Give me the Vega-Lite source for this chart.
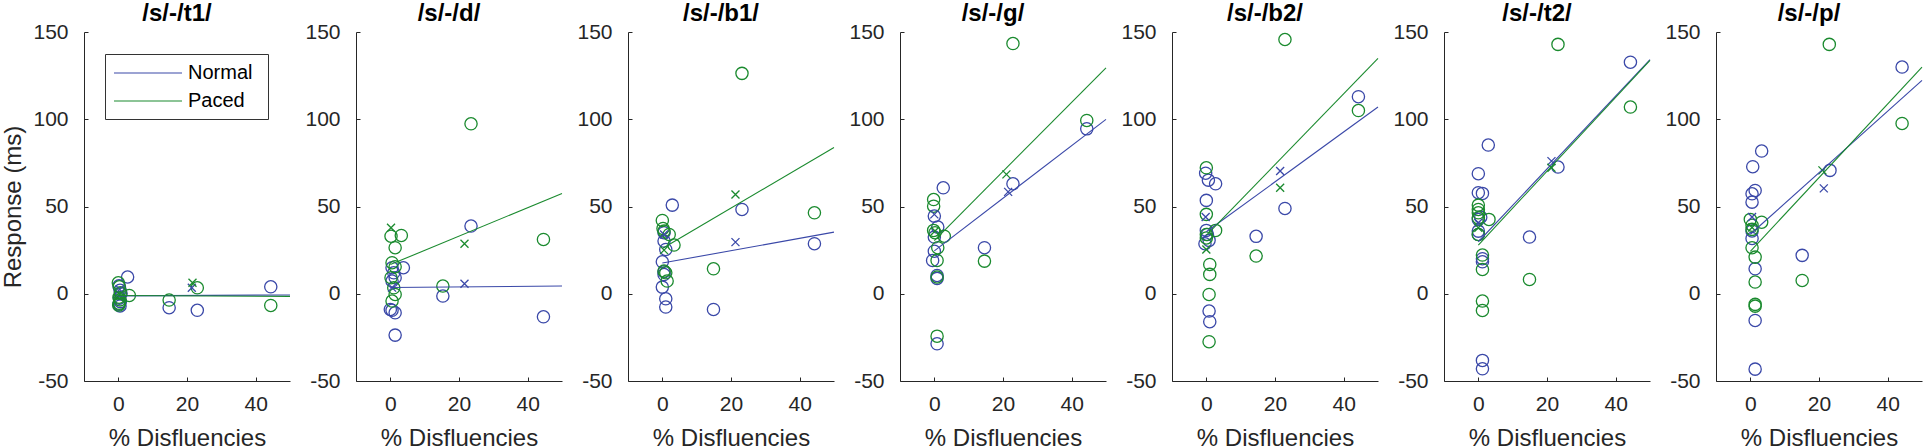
{
  "$schema": "https://vega.github.io/schema/vega-lite/v6.json",
  "padding": {"left": 1, "top": 1, "right": 0, "bottom": 0},
  "spacing": 66,
  "bounds": "flush",
  "resolve": {"legend": {"color": "independent"}},
  "datasets": {
    "lines": [
      {"panel": "/s/-/t1/", "group": "Normal", "x": 0, "y": -1.2}, {"panel": "/s/-/t1/", "group": "Normal", "x": 50, "y": -0.7},
      {"panel": "/s/-/t1/", "group": "Paced", "x": 0, "y": -1.0}, {"panel": "/s/-/t1/", "group": "Paced", "x": 50, "y": -1.5},
      {"panel": "/s/-/d/", "group": "Normal", "x": 0, "y": 3.6}, {"panel": "/s/-/d/", "group": "Normal", "x": 50, "y": 4.4},
      {"panel": "/s/-/d/", "group": "Paced", "x": 0, "y": 16.7}, {"panel": "/s/-/d/", "group": "Paced", "x": 50, "y": 57.5},
      {"panel": "/s/-/b1/", "group": "Normal", "x": 0, "y": 17.6}, {"panel": "/s/-/b1/", "group": "Normal", "x": 50, "y": 35.3},
      {"panel": "/s/-/b1/", "group": "Paced", "x": 0, "y": 25.9}, {"panel": "/s/-/b1/", "group": "Paced", "x": 50, "y": 83.8},
      {"panel": "/s/-/g/", "group": "Normal", "x": 0, "y": 24.6}, {"panel": "/s/-/g/", "group": "Normal", "x": 50, "y": 99.9},
      {"panel": "/s/-/g/", "group": "Paced", "x": 0, "y": 30.5}, {"panel": "/s/-/g/", "group": "Paced", "x": 50, "y": 129.5},
      {"panel": "/s/-/b2/", "group": "Normal", "x": 0, "y": 35.5}, {"panel": "/s/-/b2/", "group": "Normal", "x": 50, "y": 107},
      {"panel": "/s/-/b2/", "group": "Paced", "x": 0, "y": 33.4}, {"panel": "/s/-/b2/", "group": "Paced", "x": 50, "y": 134.9},
      {"panel": "/s/-/t2/", "group": "Normal", "x": 0, "y": 29.8}, {"panel": "/s/-/t2/", "group": "Normal", "x": 50, "y": 134.1},
      {"panel": "/s/-/t2/", "group": "Paced", "x": 0, "y": 27.9}, {"panel": "/s/-/t2/", "group": "Paced", "x": 50, "y": 133.7},
      {"panel": "/s/-/p/", "group": "Normal", "x": 0, "y": 34.1}, {"panel": "/s/-/p/", "group": "Normal", "x": 50, "y": 122.3},
      {"panel": "/s/-/p/", "group": "Paced", "x": 0, "y": 24.3}, {"panel": "/s/-/p/", "group": "Paced", "x": 50, "y": 129.9}
    ],
    "points": [
      {"panel": "/s/-/t1/", "group": "Normal", "kind": "obs", "x": 2.7, "y": 9.6},
      {"panel": "/s/-/t1/", "group": "Normal", "kind": "obs", "x": 14.8, "y": -8},
      {"panel": "/s/-/t1/", "group": "Normal", "kind": "obs", "x": 23, "y": -9.5},
      {"panel": "/s/-/t1/", "group": "Normal", "kind": "obs", "x": 44.4, "y": 4},
      {"panel": "/s/-/t1/", "group": "Normal", "kind": "obs", "x": 0.2, "y": 4.5},
      {"panel": "/s/-/t1/", "group": "Normal", "kind": "obs", "x": 0.5, "y": 2},
      {"panel": "/s/-/t1/", "group": "Normal", "kind": "obs", "x": 0.8, "y": 0},
      {"panel": "/s/-/t1/", "group": "Normal", "kind": "obs", "x": 0.3, "y": -2.5},
      {"panel": "/s/-/t1/", "group": "Normal", "kind": "obs", "x": 0.6, "y": -4.5},
      {"panel": "/s/-/t1/", "group": "Normal", "kind": "obs", "x": 0.2, "y": -6},
      {"panel": "/s/-/t1/", "group": "Normal", "kind": "obs", "x": 0.5, "y": -7},
      {"panel": "/s/-/t1/", "group": "Paced", "kind": "obs", "x": 3.2, "y": -1},
      {"panel": "/s/-/t1/", "group": "Paced", "kind": "obs", "x": 14.8, "y": -3.6},
      {"panel": "/s/-/t1/", "group": "Paced", "kind": "obs", "x": 23, "y": 3.4},
      {"panel": "/s/-/t1/", "group": "Paced", "kind": "obs", "x": 44.4, "y": -6.7},
      {"panel": "/s/-/t1/", "group": "Paced", "kind": "obs", "x": 0, "y": 6.3},
      {"panel": "/s/-/t1/", "group": "Paced", "kind": "obs", "x": 0.3, "y": 4},
      {"panel": "/s/-/t1/", "group": "Paced", "kind": "obs", "x": 0.6, "y": 0.5},
      {"panel": "/s/-/t1/", "group": "Paced", "kind": "obs", "x": 0.2, "y": -2},
      {"panel": "/s/-/t1/", "group": "Paced", "kind": "obs", "x": 0.5, "y": -3.5},
      {"panel": "/s/-/t1/", "group": "Paced", "kind": "obs", "x": 0.3, "y": -5.5},
      {"panel": "/s/-/t1/", "group": "Paced", "kind": "obs", "x": 0.1, "y": -6.5},
      {"panel": "/s/-/t1/", "group": "Normal", "kind": "mean", "x": 21.4, "y": 3.4},
      {"panel": "/s/-/t1/", "group": "Normal", "kind": "mean", "x": 0.4, "y": 2.5},
      {"panel": "/s/-/t1/", "group": "Paced", "kind": "mean", "x": 21.6, "y": 6.3},
      {"panel": "/s/-/t1/", "group": "Paced", "kind": "mean", "x": 0.4, "y": -0.5},

      {"panel": "/s/-/d/", "group": "Normal", "kind": "obs", "x": 23.5, "y": 38.8},
      {"panel": "/s/-/d/", "group": "Normal", "kind": "obs", "x": 44.6, "y": -13.2},
      {"panel": "/s/-/d/", "group": "Normal", "kind": "obs", "x": 15.3, "y": -1.3},
      {"panel": "/s/-/d/", "group": "Normal", "kind": "obs", "x": 3.8, "y": 14.9},
      {"panel": "/s/-/d/", "group": "Normal", "kind": "obs", "x": 0.5, "y": 14.9},
      {"panel": "/s/-/d/", "group": "Normal", "kind": "obs", "x": 1, "y": 12},
      {"panel": "/s/-/d/", "group": "Normal", "kind": "obs", "x": 1.4, "y": 9.2},
      {"panel": "/s/-/d/", "group": "Normal", "kind": "obs", "x": 0.5, "y": 7.3},
      {"panel": "/s/-/d/", "group": "Normal", "kind": "obs", "x": 0, "y": -9},
      {"panel": "/s/-/d/", "group": "Normal", "kind": "obs", "x": 0.5, "y": -9.5},
      {"panel": "/s/-/d/", "group": "Normal", "kind": "obs", "x": 1.4, "y": -10.9},
      {"panel": "/s/-/d/", "group": "Normal", "kind": "obs", "x": 1.4, "y": -23.7},
      {"panel": "/s/-/d/", "group": "Paced", "kind": "obs", "x": 23.5, "y": 97.4},
      {"panel": "/s/-/d/", "group": "Paced", "kind": "obs", "x": 44.6, "y": 31.1},
      {"panel": "/s/-/d/", "group": "Paced", "kind": "obs", "x": 15.3, "y": 4.4},
      {"panel": "/s/-/d/", "group": "Paced", "kind": "obs", "x": 3.2, "y": 33.4},
      {"panel": "/s/-/d/", "group": "Paced", "kind": "obs", "x": 0.2, "y": 33},
      {"panel": "/s/-/d/", "group": "Paced", "kind": "obs", "x": 1.4, "y": 26.4},
      {"panel": "/s/-/d/", "group": "Paced", "kind": "obs", "x": 0.5, "y": 17.8},
      {"panel": "/s/-/d/", "group": "Paced", "kind": "obs", "x": 1.4, "y": 15.5},
      {"panel": "/s/-/d/", "group": "Paced", "kind": "obs", "x": 0.2, "y": 9.2},
      {"panel": "/s/-/d/", "group": "Paced", "kind": "obs", "x": 1, "y": 3.4},
      {"panel": "/s/-/d/", "group": "Paced", "kind": "obs", "x": 1.4, "y": -0.4},
      {"panel": "/s/-/d/", "group": "Paced", "kind": "obs", "x": 0.5, "y": -4.2},
      {"panel": "/s/-/d/", "group": "Normal", "kind": "mean", "x": 21.6, "y": 5.7},
      {"panel": "/s/-/d/", "group": "Normal", "kind": "mean", "x": 0.5, "y": 3.5},
      {"panel": "/s/-/d/", "group": "Paced", "kind": "mean", "x": 21.6, "y": 28.7},
      {"panel": "/s/-/d/", "group": "Paced", "kind": "mean", "x": 0.2, "y": 37.8},

      {"panel": "/s/-/b1/", "group": "Normal", "kind": "obs", "x": 2.9, "y": 50.8},
      {"panel": "/s/-/b1/", "group": "Normal", "kind": "obs", "x": 23.2, "y": 48.3},
      {"panel": "/s/-/b1/", "group": "Normal", "kind": "obs", "x": 44.3, "y": 28.7},
      {"panel": "/s/-/b1/", "group": "Normal", "kind": "obs", "x": 14.9, "y": -9},
      {"panel": "/s/-/b1/", "group": "Normal", "kind": "obs", "x": 0.5, "y": 35},
      {"panel": "/s/-/b1/", "group": "Normal", "kind": "obs", "x": 0.5, "y": 30.2},
      {"panel": "/s/-/b1/", "group": "Normal", "kind": "obs", "x": 1, "y": 25.4},
      {"panel": "/s/-/b1/", "group": "Normal", "kind": "obs", "x": 0, "y": 18.3},
      {"panel": "/s/-/b1/", "group": "Normal", "kind": "obs", "x": 0.5, "y": 12.6},
      {"panel": "/s/-/b1/", "group": "Normal", "kind": "obs", "x": 0.5, "y": 11},
      {"panel": "/s/-/b1/", "group": "Normal", "kind": "obs", "x": 0, "y": 3.8},
      {"panel": "/s/-/b1/", "group": "Normal", "kind": "obs", "x": 1, "y": -2.9},
      {"panel": "/s/-/b1/", "group": "Normal", "kind": "obs", "x": 1, "y": -7.6},
      {"panel": "/s/-/b1/", "group": "Paced", "kind": "obs", "x": 23.2, "y": 126.3},
      {"panel": "/s/-/b1/", "group": "Paced", "kind": "obs", "x": 44.3, "y": 46.4},
      {"panel": "/s/-/b1/", "group": "Paced", "kind": "obs", "x": 14.9, "y": 14.3},
      {"panel": "/s/-/b1/", "group": "Paced", "kind": "obs", "x": 3.4, "y": 27.9},
      {"panel": "/s/-/b1/", "group": "Paced", "kind": "obs", "x": 0, "y": 42},
      {"panel": "/s/-/b1/", "group": "Paced", "kind": "obs", "x": 0.2, "y": 37.4},
      {"panel": "/s/-/b1/", "group": "Paced", "kind": "obs", "x": 0.5, "y": 35.9},
      {"panel": "/s/-/b1/", "group": "Paced", "kind": "obs", "x": 2, "y": 34},
      {"panel": "/s/-/b1/", "group": "Paced", "kind": "obs", "x": 0.5, "y": 13},
      {"panel": "/s/-/b1/", "group": "Paced", "kind": "obs", "x": 1, "y": 12},
      {"panel": "/s/-/b1/", "group": "Paced", "kind": "obs", "x": 1.4, "y": 7.3},
      {"panel": "/s/-/b1/", "group": "Normal", "kind": "mean", "x": 21.3, "y": 29.6},
      {"panel": "/s/-/b1/", "group": "Normal", "kind": "mean", "x": 0.5, "y": 34},
      {"panel": "/s/-/b1/", "group": "Paced", "kind": "mean", "x": 21.3, "y": 56.9},
      {"panel": "/s/-/b1/", "group": "Paced", "kind": "mean", "x": 0.5, "y": 25},

      {"panel": "/s/-/g/", "group": "Normal", "kind": "obs", "x": 2.6, "y": 60.7},
      {"panel": "/s/-/g/", "group": "Normal", "kind": "obs", "x": 22.9, "y": 63},
      {"panel": "/s/-/g/", "group": "Normal", "kind": "obs", "x": 44.4, "y": 94.5},
      {"panel": "/s/-/g/", "group": "Normal", "kind": "obs", "x": 14.6, "y": 26.4},
      {"panel": "/s/-/g/", "group": "Normal", "kind": "obs", "x": 0, "y": 44.5},
      {"panel": "/s/-/g/", "group": "Normal", "kind": "obs", "x": 1, "y": 38.2},
      {"panel": "/s/-/g/", "group": "Normal", "kind": "obs", "x": 0, "y": 32.5},
      {"panel": "/s/-/g/", "group": "Normal", "kind": "obs", "x": 0, "y": 24.4},
      {"panel": "/s/-/g/", "group": "Normal", "kind": "obs", "x": -0.5, "y": 19.1},
      {"panel": "/s/-/g/", "group": "Normal", "kind": "obs", "x": 0.8, "y": 10.5},
      {"panel": "/s/-/g/", "group": "Normal", "kind": "obs", "x": 0.8, "y": 8.8},
      {"panel": "/s/-/g/", "group": "Normal", "kind": "obs", "x": 0.8, "y": -28.7},
      {"panel": "/s/-/g/", "group": "Paced", "kind": "obs", "x": 22.9, "y": 143.4},
      {"panel": "/s/-/g/", "group": "Paced", "kind": "obs", "x": 44.4, "y": 99.3},
      {"panel": "/s/-/g/", "group": "Paced", "kind": "obs", "x": 14.6, "y": 18.7},
      {"panel": "/s/-/g/", "group": "Paced", "kind": "obs", "x": 2.9, "y": 33},
      {"panel": "/s/-/g/", "group": "Paced", "kind": "obs", "x": -0.2, "y": 54},
      {"panel": "/s/-/g/", "group": "Paced", "kind": "obs", "x": -0.2, "y": 50.2},
      {"panel": "/s/-/g/", "group": "Paced", "kind": "obs", "x": -0.2, "y": 36.3},
      {"panel": "/s/-/g/", "group": "Paced", "kind": "obs", "x": 0.2, "y": 35},
      {"panel": "/s/-/g/", "group": "Paced", "kind": "obs", "x": 1, "y": 26.4},
      {"panel": "/s/-/g/", "group": "Paced", "kind": "obs", "x": 0.8, "y": 19.1},
      {"panel": "/s/-/g/", "group": "Paced", "kind": "obs", "x": 0.8, "y": 9.6},
      {"panel": "/s/-/g/", "group": "Paced", "kind": "obs", "x": 0.8, "y": -24.3},
      {"panel": "/s/-/g/", "group": "Normal", "kind": "mean", "x": 21.5, "y": 58.4},
      {"panel": "/s/-/g/", "group": "Normal", "kind": "mean", "x": 0, "y": 45.5},
      {"panel": "/s/-/g/", "group": "Paced", "kind": "mean", "x": 21, "y": 68.4},
      {"panel": "/s/-/g/", "group": "Paced", "kind": "mean", "x": 0.2, "y": 36},

      {"panel": "/s/-/b2/", "group": "Normal", "kind": "obs", "x": 2.7, "y": 63},
      {"panel": "/s/-/b2/", "group": "Normal", "kind": "obs", "x": 22.9, "y": 48.9},
      {"panel": "/s/-/b2/", "group": "Normal", "kind": "obs", "x": 44.3, "y": 112.9},
      {"panel": "/s/-/b2/", "group": "Normal", "kind": "obs", "x": 14.5, "y": 32.9},
      {"panel": "/s/-/b2/", "group": "Normal", "kind": "obs", "x": -0.2, "y": 69.1},
      {"panel": "/s/-/b2/", "group": "Normal", "kind": "obs", "x": 0.6, "y": 65.1},
      {"panel": "/s/-/b2/", "group": "Normal", "kind": "obs", "x": 0, "y": 53.5},
      {"panel": "/s/-/b2/", "group": "Normal", "kind": "obs", "x": 0, "y": 36.3},
      {"panel": "/s/-/b2/", "group": "Normal", "kind": "obs", "x": 0.3, "y": 34},
      {"panel": "/s/-/b2/", "group": "Normal", "kind": "obs", "x": 0.8, "y": 30.6},
      {"panel": "/s/-/b2/", "group": "Normal", "kind": "obs", "x": -0.4, "y": 28.7},
      {"panel": "/s/-/b2/", "group": "Normal", "kind": "obs", "x": 0.8, "y": -9.9},
      {"panel": "/s/-/b2/", "group": "Normal", "kind": "obs", "x": 1, "y": -16},
      {"panel": "/s/-/b2/", "group": "Paced", "kind": "obs", "x": 22.9, "y": 145.7},
      {"panel": "/s/-/b2/", "group": "Paced", "kind": "obs", "x": 44.3, "y": 105},
      {"panel": "/s/-/b2/", "group": "Paced", "kind": "obs", "x": 14.5, "y": 21.6},
      {"panel": "/s/-/b2/", "group": "Paced", "kind": "obs", "x": 2.7, "y": 36.3},
      {"panel": "/s/-/b2/", "group": "Paced", "kind": "obs", "x": 0, "y": 72.2},
      {"panel": "/s/-/b2/", "group": "Paced", "kind": "obs", "x": 0, "y": 45.5},
      {"panel": "/s/-/b2/", "group": "Paced", "kind": "obs", "x": 0, "y": 34},
      {"panel": "/s/-/b2/", "group": "Paced", "kind": "obs", "x": 0, "y": 32},
      {"panel": "/s/-/b2/", "group": "Paced", "kind": "obs", "x": 1, "y": 16.8},
      {"panel": "/s/-/b2/", "group": "Paced", "kind": "obs", "x": 1, "y": 11.1},
      {"panel": "/s/-/b2/", "group": "Paced", "kind": "obs", "x": 0.8, "y": -0.4},
      {"panel": "/s/-/b2/", "group": "Paced", "kind": "obs", "x": 0.8, "y": -27.5},
      {"panel": "/s/-/b2/", "group": "Normal", "kind": "mean", "x": 21.5, "y": 70.3},
      {"panel": "/s/-/b2/", "group": "Normal", "kind": "mean", "x": -0.2, "y": 44},
      {"panel": "/s/-/b2/", "group": "Paced", "kind": "mean", "x": 21.5, "y": 60.7},
      {"panel": "/s/-/b2/", "group": "Paced", "kind": "mean", "x": 0, "y": 25.4},

      {"panel": "/s/-/t2/", "group": "Normal", "kind": "obs", "x": 2.9, "y": 85.2},
      {"panel": "/s/-/t2/", "group": "Normal", "kind": "obs", "x": 23.2, "y": 72.6},
      {"panel": "/s/-/t2/", "group": "Normal", "kind": "obs", "x": 44.3, "y": 132.7},
      {"panel": "/s/-/t2/", "group": "Normal", "kind": "obs", "x": 14.9, "y": 32.5},
      {"panel": "/s/-/t2/", "group": "Normal", "kind": "obs", "x": 0, "y": 68.8},
      {"panel": "/s/-/t2/", "group": "Normal", "kind": "obs", "x": 0, "y": 57.9},
      {"panel": "/s/-/t2/", "group": "Normal", "kind": "obs", "x": 1.2, "y": 57.5},
      {"panel": "/s/-/t2/", "group": "Normal", "kind": "obs", "x": 0.7, "y": 43.9},
      {"panel": "/s/-/t2/", "group": "Normal", "kind": "obs", "x": 0, "y": 42.6},
      {"panel": "/s/-/t2/", "group": "Normal", "kind": "obs", "x": 0, "y": 35.9},
      {"panel": "/s/-/t2/", "group": "Normal", "kind": "obs", "x": 0, "y": 34},
      {"panel": "/s/-/t2/", "group": "Normal", "kind": "obs", "x": 1.2, "y": 20.1},
      {"panel": "/s/-/t2/", "group": "Normal", "kind": "obs", "x": 1.2, "y": 18.3},
      {"panel": "/s/-/t2/", "group": "Normal", "kind": "obs", "x": 1.2, "y": -38.2},
      {"panel": "/s/-/t2/", "group": "Normal", "kind": "obs", "x": 1.2, "y": -43},
      {"panel": "/s/-/t2/", "group": "Paced", "kind": "obs", "x": 23.2, "y": 142.9},
      {"panel": "/s/-/t2/", "group": "Paced", "kind": "obs", "x": 44.3, "y": 107},
      {"panel": "/s/-/t2/", "group": "Paced", "kind": "obs", "x": 14.9, "y": 8.2},
      {"panel": "/s/-/t2/", "group": "Paced", "kind": "obs", "x": 3.1, "y": 42.6},
      {"panel": "/s/-/t2/", "group": "Paced", "kind": "obs", "x": 0, "y": 50.8},
      {"panel": "/s/-/t2/", "group": "Paced", "kind": "obs", "x": 0, "y": 48.3},
      {"panel": "/s/-/t2/", "group": "Paced", "kind": "obs", "x": 0, "y": 46.4},
      {"panel": "/s/-/t2/", "group": "Paced", "kind": "obs", "x": 0, "y": 43.5},
      {"panel": "/s/-/t2/", "group": "Paced", "kind": "obs", "x": 0, "y": 34},
      {"panel": "/s/-/t2/", "group": "Paced", "kind": "obs", "x": 1.2, "y": 22.2},
      {"panel": "/s/-/t2/", "group": "Paced", "kind": "obs", "x": 1.2, "y": 13.9},
      {"panel": "/s/-/t2/", "group": "Paced", "kind": "obs", "x": 1.2, "y": -4.2},
      {"panel": "/s/-/t2/", "group": "Paced", "kind": "obs", "x": 1.2, "y": -9.6},
      {"panel": "/s/-/t2/", "group": "Normal", "kind": "mean", "x": 21.3, "y": 76},
      {"panel": "/s/-/t2/", "group": "Normal", "kind": "mean", "x": 0, "y": 40.7},
      {"panel": "/s/-/t2/", "group": "Paced", "kind": "mean", "x": 21.3, "y": 72.2},
      {"panel": "/s/-/t2/", "group": "Paced", "kind": "mean", "x": 0, "y": 37.8},

      {"panel": "/s/-/p/", "group": "Normal", "kind": "obs", "x": 3.3, "y": 81.8},
      {"panel": "/s/-/p/", "group": "Normal", "kind": "obs", "x": 23.2, "y": 70.7},
      {"panel": "/s/-/p/", "group": "Normal", "kind": "obs", "x": 44.2, "y": 129.9},
      {"panel": "/s/-/p/", "group": "Normal", "kind": "obs", "x": 15.1, "y": 22},
      {"panel": "/s/-/p/", "group": "Normal", "kind": "obs", "x": 0.7, "y": 72.8},
      {"panel": "/s/-/p/", "group": "Normal", "kind": "obs", "x": 1.4, "y": 59.2},
      {"panel": "/s/-/p/", "group": "Normal", "kind": "obs", "x": 0.5, "y": 57.3},
      {"panel": "/s/-/p/", "group": "Normal", "kind": "obs", "x": 0.5, "y": 52.5},
      {"panel": "/s/-/p/", "group": "Normal", "kind": "obs", "x": 0.5, "y": 36},
      {"panel": "/s/-/p/", "group": "Normal", "kind": "obs", "x": 0.5, "y": 31.7},
      {"panel": "/s/-/p/", "group": "Normal", "kind": "obs", "x": 1.4, "y": 14.3},
      {"panel": "/s/-/p/", "group": "Normal", "kind": "obs", "x": 1.4, "y": -15.3},
      {"panel": "/s/-/p/", "group": "Normal", "kind": "obs", "x": 1.4, "y": -43.2},
      {"panel": "/s/-/p/", "group": "Paced", "kind": "obs", "x": 23, "y": 142.9},
      {"panel": "/s/-/p/", "group": "Paced", "kind": "obs", "x": 44.2, "y": 97.6},
      {"panel": "/s/-/p/", "group": "Paced", "kind": "obs", "x": 15.1, "y": 7.6},
      {"panel": "/s/-/p/", "group": "Paced", "kind": "obs", "x": 3.3, "y": 41},
      {"panel": "/s/-/p/", "group": "Paced", "kind": "obs", "x": 0, "y": 42.6},
      {"panel": "/s/-/p/", "group": "Paced", "kind": "obs", "x": 0.5, "y": 39.3},
      {"panel": "/s/-/p/", "group": "Paced", "kind": "obs", "x": 0.5, "y": 36.9},
      {"panel": "/s/-/p/", "group": "Paced", "kind": "obs", "x": 0.5, "y": 26.4},
      {"panel": "/s/-/p/", "group": "Paced", "kind": "obs", "x": 1.4, "y": 21},
      {"panel": "/s/-/p/", "group": "Paced", "kind": "obs", "x": 1.4, "y": 6.7},
      {"panel": "/s/-/p/", "group": "Paced", "kind": "obs", "x": 1.4, "y": -6.1},
      {"panel": "/s/-/p/", "group": "Paced", "kind": "obs", "x": 1.4, "y": -7.1},
      {"panel": "/s/-/p/", "group": "Normal", "kind": "mean", "x": 21.4, "y": 60.4},
      {"panel": "/s/-/p/", "group": "Normal", "kind": "mean", "x": 0.5, "y": 44},
      {"panel": "/s/-/p/", "group": "Paced", "kind": "mean", "x": 21, "y": 70.7},
      {"panel": "/s/-/p/", "group": "Paced", "kind": "mean", "x": 0.5, "y": 38}
    ]
  },
  "hconcat": [
    {
      "title": "/s/-/t1/", "width": 206, "height": 349,
      "encoding": {
        "x": {"field": "x", "type": "quantitative", "scale": {"domain": [-10, 50], "nice": false, "zero": false}, "axis": {"values": [0, 20, 40], "title": "% Disfluencies"}},
        "y": {"field": "y", "type": "quantitative", "scale": {"domain": [-50, 150], "nice": false, "zero": false}, "axis": {"values": [-50, 0, 50, 100, 150], "title": "Response (ms)"}},
        "color": {"field": "group", "type": "nominal", "scale": {"domain": ["Normal", "Paced"], "range": ["#3a48a8", "#1a8a2e"]},
          "legend": {"orient": "none", "legendX": 21, "legendY": 22, "title": null, "symbolType": "M-1,0H5.8", "symbolSize": 400, "symbolStrokeWidth": 1.2, "labelFontSize": 20, "labelColor": "#000", "strokeColor": "#333", "fillColor": "#fff", "padding": 8, "rowPadding": 7, "labelOffset": 53,
            "encode": {"entries": {"update": {"width": {"value": 147}, "noBound": {"value": false}}}}}}
      },
      "layer": [
        {"data": {"name": "points"}, "transform": [{"filter": "datum.panel === '/s/-/t1/' && datum.kind === 'obs'"}], "mark": {"type": "point", "shape": "circle", "filled": false, "size": 150, "strokeWidth": 1.3, "opacity": 1}},
        {"data": {"name": "points"}, "transform": [{"filter": "datum.panel === '/s/-/t1/' && datum.kind === 'mean'"}], "mark": {"type": "point", "shape": "M-1,-1L1,1M1,-1L-1,1", "filled": false, "size": 64, "strokeWidth": 1.3, "opacity": 1}},
        {"data": {"name": "lines"}, "transform": [{"filter": "datum.panel === '/s/-/t1/'"}], "mark": {"type": "line", "strokeWidth": 1.1}}
      ]
    },
    {
      "title": "/s/-/d/", "width": 206, "height": 349,
      "encoding": {
        "x": {"field": "x", "type": "quantitative", "scale": {"domain": [-10, 50], "nice": false, "zero": false}, "axis": {"values": [0, 20, 40], "title": "% Disfluencies"}},
        "y": {"field": "y", "type": "quantitative", "scale": {"domain": [-50, 150], "nice": false, "zero": false}, "axis": {"values": [-50, 0, 50, 100, 150], "title": null}},
        "color": {"field": "group", "type": "nominal", "scale": {"domain": ["Normal", "Paced"], "range": ["#3a48a8", "#1a8a2e"]}, "legend": null}
      },
      "layer": [
        {"data": {"name": "points"}, "transform": [{"filter": "datum.panel === '/s/-/d/' && datum.kind === 'obs'"}], "mark": {"type": "point", "shape": "circle", "filled": false, "size": 150, "strokeWidth": 1.3, "opacity": 1}},
        {"data": {"name": "points"}, "transform": [{"filter": "datum.panel === '/s/-/d/' && datum.kind === 'mean'"}], "mark": {"type": "point", "shape": "M-1,-1L1,1M1,-1L-1,1", "filled": false, "size": 64, "strokeWidth": 1.3, "opacity": 1}},
        {"data": {"name": "lines"}, "transform": [{"filter": "datum.panel === '/s/-/d/'"}], "mark": {"type": "line", "strokeWidth": 1.1}}
      ]
    },
    {
      "title": "/s/-/b1/", "width": 206, "height": 349,
      "encoding": {
        "x": {"field": "x", "type": "quantitative", "scale": {"domain": [-10, 50], "nice": false, "zero": false}, "axis": {"values": [0, 20, 40], "title": "% Disfluencies"}},
        "y": {"field": "y", "type": "quantitative", "scale": {"domain": [-50, 150], "nice": false, "zero": false}, "axis": {"values": [-50, 0, 50, 100, 150], "title": null}},
        "color": {"field": "group", "type": "nominal", "scale": {"domain": ["Normal", "Paced"], "range": ["#3a48a8", "#1a8a2e"]}, "legend": null}
      },
      "layer": [
        {"data": {"name": "points"}, "transform": [{"filter": "datum.panel === '/s/-/b1/' && datum.kind === 'obs'"}], "mark": {"type": "point", "shape": "circle", "filled": false, "size": 150, "strokeWidth": 1.3, "opacity": 1}},
        {"data": {"name": "points"}, "transform": [{"filter": "datum.panel === '/s/-/b1/' && datum.kind === 'mean'"}], "mark": {"type": "point", "shape": "M-1,-1L1,1M1,-1L-1,1", "filled": false, "size": 64, "strokeWidth": 1.3, "opacity": 1}},
        {"data": {"name": "lines"}, "transform": [{"filter": "datum.panel === '/s/-/b1/'"}], "mark": {"type": "line", "strokeWidth": 1.1}}
      ]
    },
    {
      "title": "/s/-/g/", "width": 206, "height": 349,
      "encoding": {
        "x": {"field": "x", "type": "quantitative", "scale": {"domain": [-10, 50], "nice": false, "zero": false}, "axis": {"values": [0, 20, 40], "title": "% Disfluencies"}},
        "y": {"field": "y", "type": "quantitative", "scale": {"domain": [-50, 150], "nice": false, "zero": false}, "axis": {"values": [-50, 0, 50, 100, 150], "title": null}},
        "color": {"field": "group", "type": "nominal", "scale": {"domain": ["Normal", "Paced"], "range": ["#3a48a8", "#1a8a2e"]}, "legend": null}
      },
      "layer": [
        {"data": {"name": "points"}, "transform": [{"filter": "datum.panel === '/s/-/g/' && datum.kind === 'obs'"}], "mark": {"type": "point", "shape": "circle", "filled": false, "size": 150, "strokeWidth": 1.3, "opacity": 1}},
        {"data": {"name": "points"}, "transform": [{"filter": "datum.panel === '/s/-/g/' && datum.kind === 'mean'"}], "mark": {"type": "point", "shape": "M-1,-1L1,1M1,-1L-1,1", "filled": false, "size": 64, "strokeWidth": 1.3, "opacity": 1}},
        {"data": {"name": "lines"}, "transform": [{"filter": "datum.panel === '/s/-/g/'"}], "mark": {"type": "line", "strokeWidth": 1.1}}
      ]
    },
    {
      "title": "/s/-/b2/", "width": 206, "height": 349,
      "encoding": {
        "x": {"field": "x", "type": "quantitative", "scale": {"domain": [-10, 50], "nice": false, "zero": false}, "axis": {"values": [0, 20, 40], "title": "% Disfluencies"}},
        "y": {"field": "y", "type": "quantitative", "scale": {"domain": [-50, 150], "nice": false, "zero": false}, "axis": {"values": [-50, 0, 50, 100, 150], "title": null}},
        "color": {"field": "group", "type": "nominal", "scale": {"domain": ["Normal", "Paced"], "range": ["#3a48a8", "#1a8a2e"]}, "legend": null}
      },
      "layer": [
        {"data": {"name": "points"}, "transform": [{"filter": "datum.panel === '/s/-/b2/' && datum.kind === 'obs'"}], "mark": {"type": "point", "shape": "circle", "filled": false, "size": 150, "strokeWidth": 1.3, "opacity": 1}},
        {"data": {"name": "points"}, "transform": [{"filter": "datum.panel === '/s/-/b2/' && datum.kind === 'mean'"}], "mark": {"type": "point", "shape": "M-1,-1L1,1M1,-1L-1,1", "filled": false, "size": 64, "strokeWidth": 1.3, "opacity": 1}},
        {"data": {"name": "lines"}, "transform": [{"filter": "datum.panel === '/s/-/b2/'"}], "mark": {"type": "line", "strokeWidth": 1.1}}
      ]
    },
    {
      "title": "/s/-/t2/", "width": 206, "height": 349,
      "encoding": {
        "x": {"field": "x", "type": "quantitative", "scale": {"domain": [-10, 50], "nice": false, "zero": false}, "axis": {"values": [0, 20, 40], "title": "% Disfluencies"}},
        "y": {"field": "y", "type": "quantitative", "scale": {"domain": [-50, 150], "nice": false, "zero": false}, "axis": {"values": [-50, 0, 50, 100, 150], "title": null}},
        "color": {"field": "group", "type": "nominal", "scale": {"domain": ["Normal", "Paced"], "range": ["#3a48a8", "#1a8a2e"]}, "legend": null}
      },
      "layer": [
        {"data": {"name": "points"}, "transform": [{"filter": "datum.panel === '/s/-/t2/' && datum.kind === 'obs'"}], "mark": {"type": "point", "shape": "circle", "filled": false, "size": 150, "strokeWidth": 1.3, "opacity": 1}},
        {"data": {"name": "points"}, "transform": [{"filter": "datum.panel === '/s/-/t2/' && datum.kind === 'mean'"}], "mark": {"type": "point", "shape": "M-1,-1L1,1M1,-1L-1,1", "filled": false, "size": 64, "strokeWidth": 1.3, "opacity": 1}},
        {"data": {"name": "lines"}, "transform": [{"filter": "datum.panel === '/s/-/t2/'"}], "mark": {"type": "line", "strokeWidth": 1.1}}
      ]
    },
    {
      "title": "/s/-/p/", "width": 206, "height": 349,
      "encoding": {
        "x": {"field": "x", "type": "quantitative", "scale": {"domain": [-10, 50], "nice": false, "zero": false}, "axis": {"values": [0, 20, 40], "title": "% Disfluencies"}},
        "y": {"field": "y", "type": "quantitative", "scale": {"domain": [-50, 150], "nice": false, "zero": false}, "axis": {"values": [-50, 0, 50, 100, 150], "title": null}},
        "color": {"field": "group", "type": "nominal", "scale": {"domain": ["Normal", "Paced"], "range": ["#3a48a8", "#1a8a2e"]}, "legend": null}
      },
      "layer": [
        {"data": {"name": "points"}, "transform": [{"filter": "datum.panel === '/s/-/p/' && datum.kind === 'obs'"}], "mark": {"type": "point", "shape": "circle", "filled": false, "size": 150, "strokeWidth": 1.3, "opacity": 1}},
        {"data": {"name": "points"}, "transform": [{"filter": "datum.panel === '/s/-/p/' && datum.kind === 'mean'"}], "mark": {"type": "point", "shape": "M-1,-1L1,1M1,-1L-1,1", "filled": false, "size": 64, "strokeWidth": 1.3, "opacity": 1}},
        {"data": {"name": "lines"}, "transform": [{"filter": "datum.panel === '/s/-/p/'"}], "mark": {"type": "line", "strokeWidth": 1.1}}
      ]
    }
  ],
  "config": {
    "font": "Liberation Sans",
    "view": {"stroke": null},
    "axis": {"grid": false, "domainColor": "#262626", "tickColor": "#262626", "labelColor": "#262626", "titleColor": "#262626", "labelFontSize": 21, "titleFontSize": 24, "titleFontWeight": "normal", "tickSize": -4, "domainWidth": 1, "tickWidth": 1, "labelFont": "Liberation Sans", "titleFont": "Liberation Sans"},
    "axisX": {"titlePadding": 12, "labelPadding": 16},
    "axisY": {"titlePadding": 7.5, "labelPadding": 20, "labelExpr": "datum.value < 0 ? '-' + abs(datum.value) : '' + datum.value"},
    "title": {"fontSize": 24, "fontWeight": "bold", "color": "#000", "offset": -4.5, "dx": -10, "font": "Liberation Sans"},
    "legend": {"labelFont": "Liberation Sans"}
  }
}
